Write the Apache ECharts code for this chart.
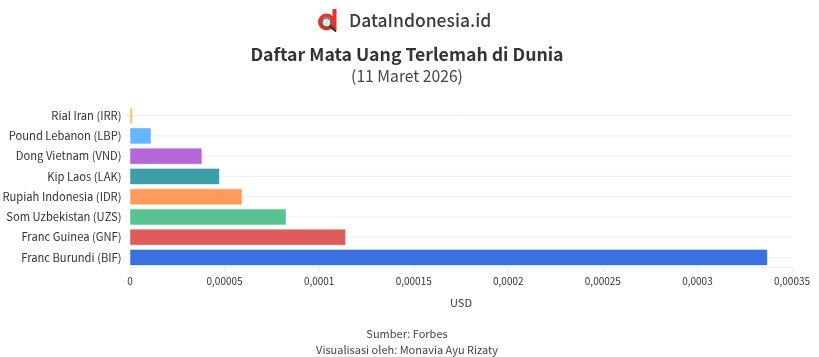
<!DOCTYPE html>
<html>
<head>
<meta charset="utf-8">
<style>
    html, body { margin: 0; padding: 0; background: #fff; }
    #chart { width: 819px; height: 357px; }
</style>
<script src="https://cdn.jsdelivr.net/npm/echarts@6/dist/echarts.min.js"></script>
</head>
<body>
<div id="chart"></div>
<script>
    // urut dari bawah ke atas, sumbu y kategori
    const categories = ['Franc Burundi (BIF)', 'Franc Guinea (GNF)', 'Som Uzbekistan (UZS)', 'Rupiah Indonesia (IDR)', 'Kip Laos (LAK)', 'Dong Vietnam (VND)', 'Pound Lebanon (LBP)', 'Rial Iran (IRR)'];
    const values = [0.000337, 0.000114, 0.0000825, 0.0000592, 0.0000473, 0.000038, 0.0000111, 0.0000013];
    const barColors = ['#3972e0', '#e05c5c', '#58c293', '#fd9b5b', '#3e9ea8', '#b566d9', '#66b5ff', '#f7c65b'];
    const xTicks = [0, 0.00005, 0.0001, 0.00015, 0.0002, 0.00025, 0.0003, 0.00035];
    const xTickLabels = ['0', '0,00005', '0,0001', '0,00015', '0,0002', '0,00025', '0,0003', '0,00035'];

    const font = '"Noto Sans CJK SC", "Noto Sans", sans-serif';
    const myChart = echarts.init(document.getElementById('chart'));

    const option = {
        animation: false,
        backgroundColor: '#fff',
        textStyle: { fontFamily: font },
        grid: { left: 130, right: 27, top: 105.5, height: 162, outerBoundsMode: 'none' },
        xAxis: {
            type: 'value',
            min: 0,
            max: 0.00035,
            interval: 0.00005,
            name: 'USD',
            nameLocation: 'middle',
            nameGap: 30,
            nameTextStyle: { color: '#333', fontSize: 11, fontFamily: font },
            axisLine: { show: true, lineStyle: { color: '#eeeeee' } },
            axisTick: { show: true, length: 5, lineStyle: { color: '#eeeeee' } },
            splitLine: { show: false },
            axisLabel: {
                color: '#333',
                fontSize: 10,
                margin: 9,
                hideOverlap: false,
                fontFamily: font,
                formatter: (v) => xTickLabels[xTicks.findIndex((t) => Math.abs(t - v) < 1e-9)]
            }
        },
        yAxis: {
            type: 'category',
            data: categories,
            axisLine: { show: false },
            axisTick: { show: false },
            splitLine: { show: false },
            axisLabel: { color: '#333', fontSize: 11.2, margin: 8.5, fontFamily: font, interval: 0 }
        },
        series: [
            {
                // garis tipis di tengah tiap baris
                type: 'custom',
                silent: true,
                z: 1,
                encode: { x: 0, y: 1 },
                data: categories.map((c) => [0.00035, c]),
                renderItem: (params, api) => {
                    const end = api.coord([api.value(0), api.value(1)]);
                    const start = api.coord([0, api.value(1)]);
                    return {
                        type: 'line',
                        shape: { x1: start[0] - 5, y1: end[1], x2: end[0], y2: end[1] },
                        style: { stroke: '#eeeeee', lineWidth: 1 }
                    };
                }
            },
            {
                type: 'bar',
                z: 2,
                barWidth: 16,
                data: values.map((v, i) => ({
                    value: v,
                    itemStyle: { color: barColors[i], borderColor: barColors[i] + '80', borderWidth: 1 }
                }))
            }
        ],
        graphic: [
            // logo
            { type: 'ring', shape: { cx: 326.5, cy: 22, r: 8.5, r0: 5 }, style: { fill: '#e8312e' } },
            { type: 'rect', shape: { x: 332.5, y: 9, width: 4, height: 21 }, style: { fill: '#e8312e' } },
            { type: 'circle', shape: { cx: 326.5, cy: 22.5, r: 4.6 }, style: { fill: '#d9e6da', stroke: '#444', lineWidth: 1.3 } },
            { type: 'line', shape: { x1: 330, y1: 26, x2: 336, y2: 31.5 }, style: { stroke: '#333', lineWidth: 2 } },
            { type: 'text', x: 349, y: 20, style: { text: 'DataIndonesia.id', font: '500 17.5px ' + font, fill: '#3c3c3c', textVerticalAlign: 'middle' } },
            // judul
            { type: 'text', x: 407, y: 54, style: { text: 'Daftar Mata Uang Terlemah di Dunia', font: '700 17.7px ' + font, fill: '#333', textAlign: 'center', textVerticalAlign: 'middle' } },
            { type: 'text', x: 407, y: 76, style: { text: '(11 Maret 2026)', font: '400 15.7px ' + font, fill: '#444', textAlign: 'center', textVerticalAlign: 'middle' } },
            // sumber
            { type: 'text', x: 407, y: 334, style: { text: 'Sumber: Forbes', font: '400 11px ' + font, fill: '#444', textAlign: 'center', textVerticalAlign: 'middle' } },
            { type: 'text', x: 407, y: 350, style: { text: 'Visualisasi oleh: Monavia Ayu Rizaty', font: '400 11px ' + font, fill: '#444', textAlign: 'center', textVerticalAlign: 'middle' } }
        ]
    };
    myChart.setOption(option);
</script>
</body>
</html>
